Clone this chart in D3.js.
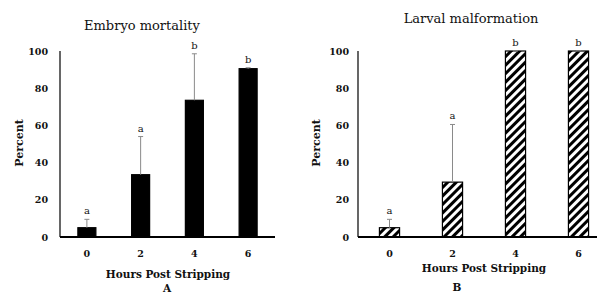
<!DOCTYPE html>
<html>
<head>
<meta charset="utf-8">
<script src="https://cdn.jsdelivr.net/npm/d3@7"></script>
<style>
  body { margin: 0; background: #fff; }
  text { font-family: "DejaVu Serif", "Liberation Serif", serif; fill: #111; }
</style>
</head>
<body>
<div id="main"></div>
<script>
var hours = ["0", "2", "4", "6"];
var yTicks = [0, 20, 40, 60, 80, 100];

var mortality = [5, 33.5, 73.5, 90.5];
var mortalityErr = [4.5, 20.5, 25, 0.5];
var mortalityLetters = ["a", "a", "b", "b"];

var malformation = [5, 29.5, 100, 100];
var malformationErr = [4.5, 31, 0, 0];
var malformationLetters = ["a", "a", "b", "b"];

var svg = d3.select("#main").append("svg")
  .attr("width", 597).attr("height", 295);

svg.append("rect").attr("width", 597).attr("height", 295).attr("fill", "#fff");

var defs = svg.append("defs");
var pat = defs.append("pattern")
  .attr("id", "hatch")
  .attr("patternUnits", "userSpaceOnUse")
  .attr("width", 6).attr("height", 6)
  .attr("patternTransform", "rotate(45)");
pat.append("rect").attr("width", 6).attr("height", 6).attr("fill", "#fff");
pat.append("rect").attr("width", 3).attr("height", 6).attr("fill", "#000");

var y = d3.scaleLinear().domain([0, 100]).range([237, 51]);

function panel(opt) {
  var g = svg.append("g");
  var x = d3.scaleBand().domain(hours)
    .range([opt.x0, opt.x1]).paddingInner(opt.pad).paddingOuter(opt.pad / 2);

  // y axis: labels only, plus a thin line
  var ya = g.append("g").attr("transform", "translate(" + opt.x0 + ",0)")
    .call(d3.axisLeft(y).tickValues(yTicks).tickSize(0).tickPadding(opt.tickPad));
  ya.select(".domain").remove();
  ya.selectAll("text").style("font-family", "DejaVu Serif").style("font-size", "9.5px").style("font-weight", "bold").attr("fill", "#222");
  g.append("line").attr("x1", opt.x0).attr("x2", opt.x0)
    .attr("y1", y(100)).attr("y2", y(0))
    .attr("stroke", "#000").attr("stroke-width", 1.2);

  // bars
  g.selectAll("rect.bar").data(opt.values).enter().append("rect")
    .attr("class", "bar")
    .attr("x", function(d, i) { return x(hours[i]); })
    .attr("width", x.bandwidth())
    .attr("y", function(d) { return y(d); })
    .attr("height", function(d) { return y(0) - y(d); })
    .attr("fill", opt.fill)
    .attr("stroke", "#000").attr("stroke-width", 1.2);

  // error bars (upper only)
  var eb = g.selectAll("g.err").data(opt.values).enter().append("g").attr("class", "err");
  eb.append("line")
    .attr("x1", function(d, i) { return x(hours[i]) + x.bandwidth() / 2; })
    .attr("x2", function(d, i) { return x(hours[i]) + x.bandwidth() / 2; })
    .attr("y1", function(d) { return y(d); })
    .attr("y2", function(d, i) { return y(d + opt.err[i]); })
    .attr("stroke", "#8a8a8a").attr("stroke-width", 1);
  eb.append("line")
    .attr("x1", function(d, i) { return x(hours[i]) + x.bandwidth() / 2 - 2.5; })
    .attr("x2", function(d, i) { return x(hours[i]) + x.bandwidth() / 2 + 2.5; })
    .attr("y1", function(d, i) { return y(d + opt.err[i]); })
    .attr("y2", function(d, i) { return y(d + opt.err[i]); })
    .attr("stroke", "#8a8a8a").attr("stroke-width", 1);

  // significance letters
  g.selectAll("text.letter").data(opt.values).enter().append("text")
    .attr("class", "letter")
    .attr("x", function(d, i) { return x(hours[i]) + x.bandwidth() / 2; })
    .attr("y", function(d, i) { return y(d + opt.err[i]) - 5; })
    .attr("text-anchor", "middle")
    .style("font-size", "10px")
    .text(function(d, i) { return opt.letters[i]; });

  // x axis
  var xa = g.append("g").attr("transform", "translate(0," + y(0) + ")")
    .call(d3.axisBottom(x).tickSize(0).tickPadding(13));
  xa.select(".domain").remove();
  xa.selectAll("text").style("font-family", "DejaVu Serif").style("font-size", "9.5px").style("font-weight", "bold").attr("fill", "#222");
  g.append("line").attr("x1", opt.x0).attr("x2", opt.x1)
    .attr("y1", y(0)).attr("y2", y(0))
    .attr("stroke", "#000").attr("stroke-width", 2);

  // titles
  g.append("text").attr("x", opt.titleX).attr("y", opt.titleY)
    .attr("text-anchor", "middle").style("font-size", "13px")
    .text(opt.title);
  g.append("text")
    .attr("transform", "translate(" + opt.ylabX + ",143) rotate(-90)")
    .attr("text-anchor", "middle").style("font-size", "11px").style("font-weight", "bold")
    .text("Percent");
  g.append("text").attr("x", opt.xlabX).attr("y", opt.xlabY)
    .attr("text-anchor", "middle").style("font-size", "10.5px").style("font-weight", "bold")
    .text("Hours Post Stripping");
  g.append("text").attr("x", opt.tagX).attr("y", opt.tagY)
    .attr("text-anchor", "middle").style("font-size", "10.5px").style("font-weight", "bold")
    .text(opt.tag);
}

panel({
  x0: 60, x1: 275, pad: 0.665, tickPad: 12,
  values: mortality, err: mortalityErr, letters: mortalityLetters, fill: "#000",
  title: "Embryo mortality", titleX: 142, titleY: 30,
  ylabX: 23, xlabX: 168, xlabY: 278, tag: "A", tagX: 167, tagY: 292
});

panel({
  x0: 358, x1: 610, pad: 0.68, tickPad: 9,
  values: malformation, err: malformationErr, letters: malformationLetters, fill: "url(#hatch)",
  title: "Larval malformation", titleX: 471, titleY: 23,
  ylabX: 320, xlabX: 484, xlabY: 272, tag: "B", tagX: 457, tagY: 291
});
</script>
</body>
</html>
